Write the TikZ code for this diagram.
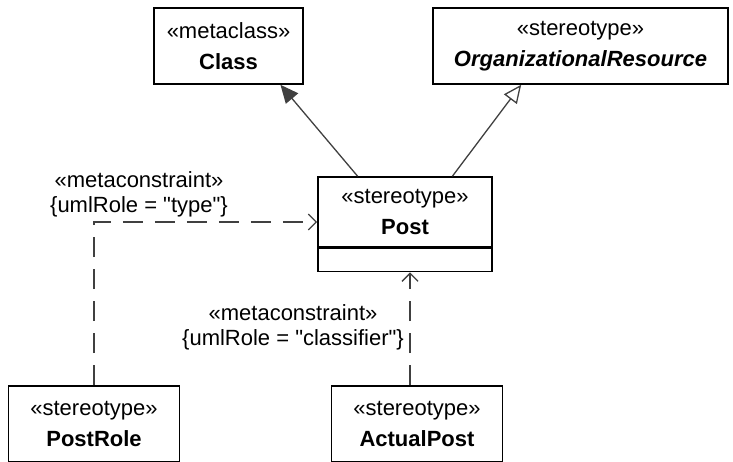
\documentclass[tikz,border=0pt]{standalone}
\usepackage{fontspec}
\setmainfont{Liberation Sans}
\usetikzlibrary{positioning, arrows.meta, calc}

\begin{document}
\begin{tikzpicture}[
    x=1pt, y=-1pt,
    txt/.style={font=\fontsize{22}{31}\selectfont, align=center, inner sep=0pt},
    box/.style={draw, line width=1.6pt, rectangle, txt, minimum height=76pt},
    gen/.style={draw=black!75, line width=1.3pt},
    dep/.style={draw=black!75, line width=1.3pt, dash pattern=on 20pt off 12pt, -{Straight Barb[length=8pt, width=16pt, line width=1.3pt]}}
]
\useasboundingbox (0,0) rectangle (733,461);

% Nodes
\node[box, minimum width=149pt] (class) at (228.5,46) {«metaclass»\\\textbf{Class}};
\node[box, minimum width=295pt] (orgres) at (580.5,46) {«stereotype»\\\textbf{\textit{OrganizationalResource}}};
\node[box, minimum width=174pt, minimum height=70pt] (post) at (405,212) {«stereotype»\\\textbf{Post}};
\node[draw, line width=1.6pt, minimum width=174pt, minimum height=23pt, inner sep=0pt, below=0pt of post] (postattr) {};
\node[box, minimum width=171pt] (postrole) at (94,424) {«stereotype»\\\textbf{PostRole}};
\node[box, minimum width=171pt] (actualpost) at (417,424) {«stereotype»\\\textbf{ActualPost}};

% Labels
\node[txt] (mc1) at (139,194) {«metaconstraint»\\[-6pt]\{umlRole = \textquotedbl type\textquotedbl\}};
\node[txt] (mc2) at (293,327) {«metaconstraint»\\[-6pt]\{umlRole = \textquotedbl classifier\textquotedbl\}};

% Edges
\draw[gen, -{Triangle[length=18pt, width=16pt]}] ($(post.north west)!0.23!(post.north east)$) -- ($(class.south west)!0.845!(class.south east)$);
\draw[gen, -{Triangle[open, length=18pt, width=16pt, line width=1.3pt]}] ($(post.north west)!0.77!(post.north east)$) -- ($(orgres.south west)!0.30!(orgres.south east)$);
\draw[dep] (postrole.north) |- ($(post.west)+(0,10)$);
\draw[dep] (actualpost.north -| 410,0) -- (postattr.south -| 410,0);

\end{tikzpicture}
\end{document}
